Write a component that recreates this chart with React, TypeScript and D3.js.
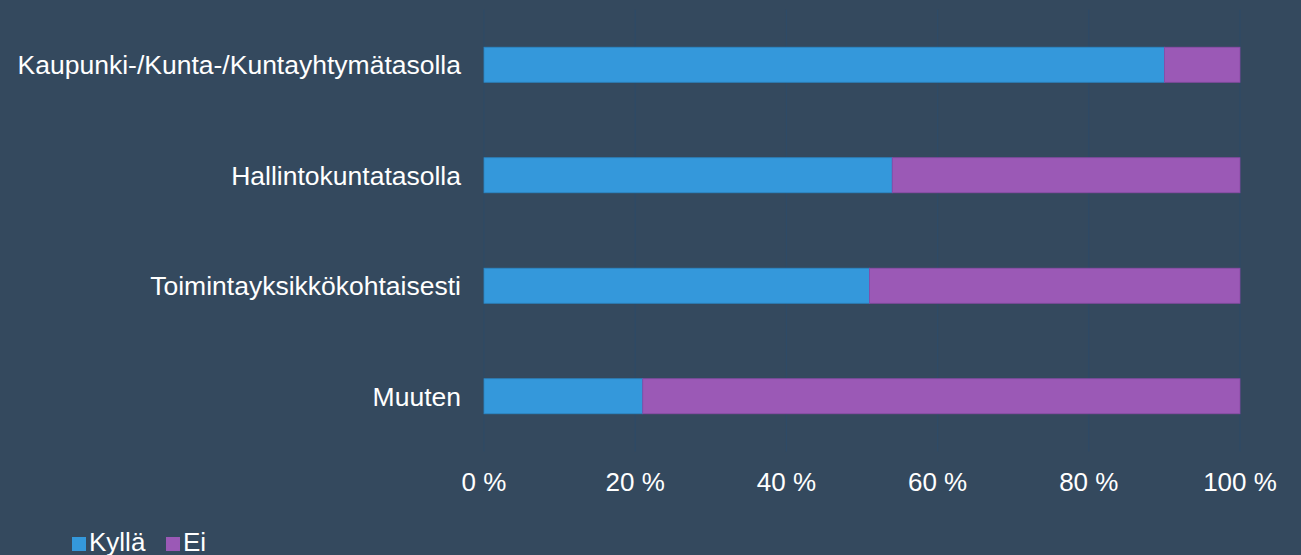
import React from "react";
import * as d3 from "d3";

const categories = [
  "Kaupunki-/Kunta-/Kuntayhtymätasolla",
  "Hallintokuntatasolla",
  "Toimintayksikkökohtaisesti",
  "Muuten",
];
const kylla = [90, 54, 51, 21];
const ei = [10, 46, 49, 79];
const seriesNames = ["Kyllä", "Ei"];
const seriesColors = ["#3498db", "#9b59b6"];
const tickValues = [0, 20, 40, 60, 80, 100];

const W = 1301;
const H = 555;
const FONT = "'Liberation Sans', Arial, sans-serif";

export default function App() {
  const x = d3.scaleLinear().domain([0, 100]).range([484, 1240]);
  const y = d3
    .scaleBand<string>()
    .domain(categories)
    .range([9.5, 451.5])
    .paddingInner(0.683)
    .paddingOuter(0.3415);

  const stacked = d3.stack<any>().keys(["k", "e"])(
    categories.map((c, i) => ({ cat: c, k: kylla[i], e: ei[i] }))
  );

  return (
    <svg
      width={W}
      height={H}
      style={{ position: "absolute", left: 0, top: 0, background: "#34495e" }}
    >
      <rect x={0} y={0} width={W} height={H} fill="#34495e" />
      {tickValues.map((t) => (
        <line
          key={t}
          x1={x(t)}
          x2={x(t)}
          y1={9.5}
          y2={451.5}
          stroke="#2e4a66"
          strokeWidth={1.2}
        />
      ))}
      {stacked.map((s, si) =>
        s.map((d, i) => (
          <rect
            key={si + "-" + i}
            x={x(d[0])}
            y={y(categories[i])!}
            width={x(d[1]) - x(d[0])}
            height={y.bandwidth()}
            fill={seriesColors[si]}
            stroke={si === 0 ? "#2a86c4" : "#8a4aa6"}
            strokeWidth={0.8}
          />
        ))
      )}
      {categories.map((c) => (
        <text
          key={c}
          x={461}
          y={y(c)! + y.bandwidth() / 2}
          dy="0.35em"
          textAnchor="end"
          fill="#ffffff"
          fontFamily={FONT}
          fontSize={26.5}
        >
          {c}
        </text>
      ))}
      {tickValues.map((t) => (
        <text
          key={"t" + t}
          x={x(t)}
          y={491}
          textAnchor="middle"
          fill="#ffffff"
          fontFamily={FONT}
          fontSize={26}
        >
          {t + " %"}
        </text>
      ))}
      <g>
        <rect x={72} y={537} width={14} height={14} fill={seriesColors[0]} />
        <text x={89} y={551} fill="#ffffff" fontFamily={FONT} fontSize={26}>
          {seriesNames[0]}
        </text>
        <rect x={166} y={537} width={14} height={14} fill={seriesColors[1]} />
        <text x={183} y={551} fill="#ffffff" fontFamily={FONT} fontSize={26}>
          {seriesNames[1]}
        </text>
      </g>
    </svg>
  );
}
